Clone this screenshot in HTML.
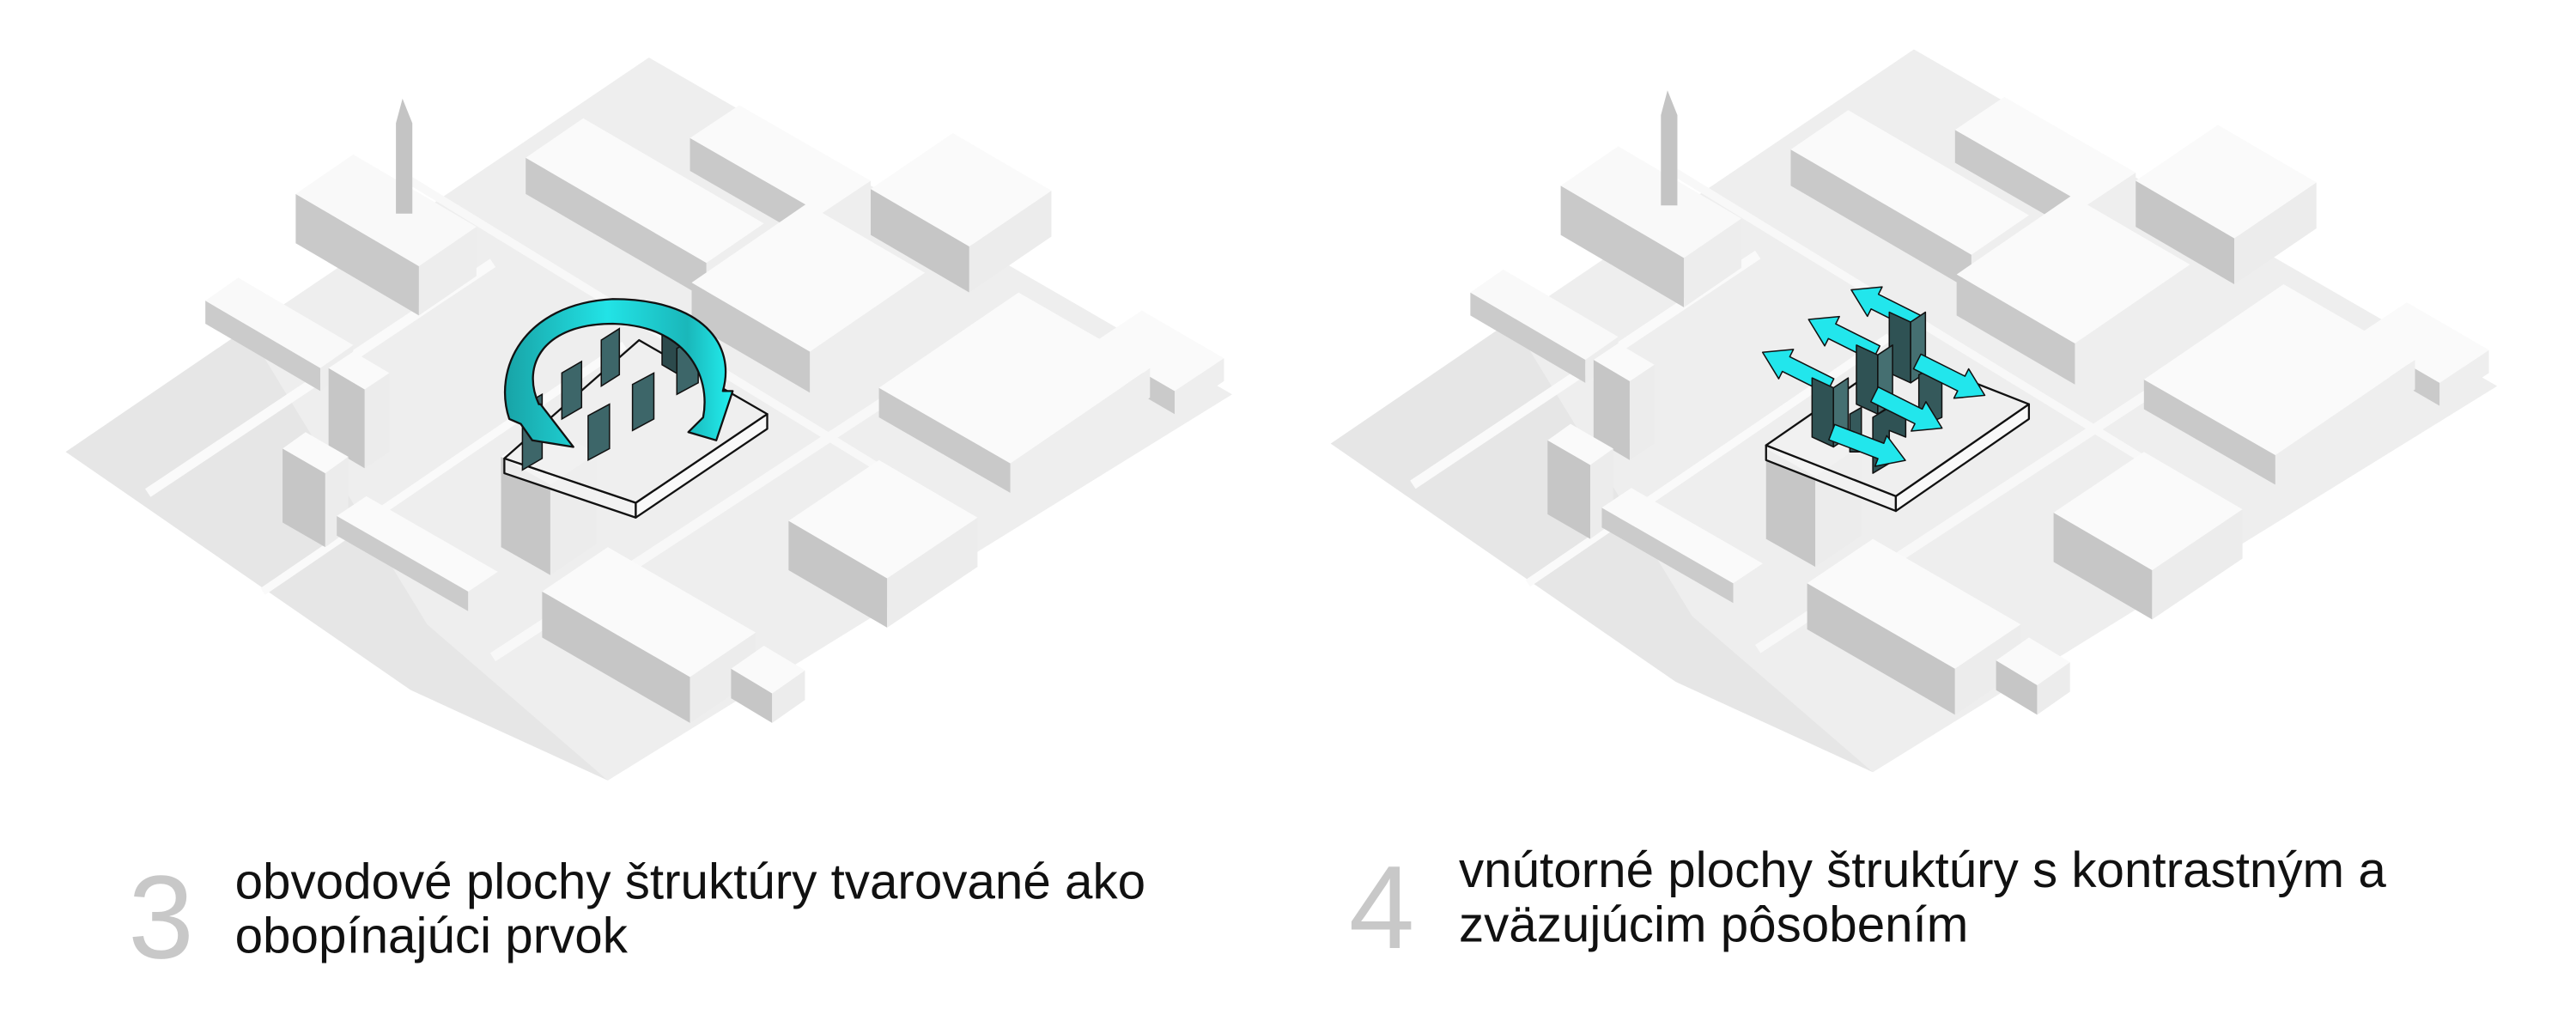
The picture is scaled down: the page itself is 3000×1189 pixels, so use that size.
<!DOCTYPE html>
<html><head><meta charset="utf-8"><style>
html,body{margin:0;padding:0;background:#fff;}
svg{display:block;}
</style></head><body>
<svg width="3000" height="1189" viewBox="0 0 1568 621.4" xmlns="http://www.w3.org/2000/svg">
<defs>
<linearGradient id="rib" x1="0" y1="0" x2="1" y2="0">
<stop offset="0" stop-color="#18a3a6"/><stop offset="0.45" stop-color="#22e3e6"/><stop offset="0.8" stop-color="#1ab7ba"/><stop offset="1" stop-color="#22f0f0"/>
</linearGradient>
<g id="city">
<polygon points="40,275 395,35 750,240 370,475" fill="#eeeeee"/>
<polygon points="40,275 150,200 260,380 370,475 250,420" fill="#e6e6e6"/>
<polyline points="90,300 300,160" stroke="#fafafa" stroke-width="6" fill="none"/>
<polyline points="160,360 380,210" stroke="#fafafa" stroke-width="5" fill="none"/>
<polyline points="300,400 560,230" stroke="#f8f8f8" stroke-width="6" fill="none"/>
<polyline points="250,110 560,300" stroke="#f8f8f8" stroke-width="5" fill="none"/>
<g stroke="none">
<polygon points="255,192 180,148 180,118 255,162" fill="#c9c9c9"/><polygon points="255,192 290,168 290,138 255,162" fill="#ededed"/><polygon points="255,162 180,118 215,94 290,138" fill="#f9f9f9"/>
<polygon points="241,130 241,75 245,60 251,75 251,130" fill="#c4c4c4"/>
<polygon points="195,238 125,197 125,183 195,224" fill="#cbcbcb"/><polygon points="195,238 215,224 215,210 195,224" fill="#ededed"/><polygon points="195,224 125,183 145,169 215,210" fill="#f9f9f9"/>
<polygon points="500,150 420,104 420,84 500,130" fill="#c9c9c9"/><polygon points="500,150 530,130 530,110 500,130" fill="#eeeeee"/><polygon points="500,130 420,84 450,64 530,110" fill="#fafafa"/>
<polygon points="430,182 320,118 320,96 430,160" fill="#c9c9c9"/><polygon points="430,182 465,158 465,136 430,160" fill="#eeeeee"/><polygon points="430,160 320,96 355,72 465,136" fill="#fafafa"/>
<polygon points="590,178 530,143 530,115 590,150" fill="#c6c6c6"/><polygon points="590,178 640,144 640,116 590,150" fill="#ececec"/><polygon points="590,150 530,115 580,81 640,116" fill="#fafafa"/>
<polygon points="493,239 421,197 421,172 493,214" fill="#c9c9c9"/><polygon points="493,239 563,191 563,166 493,214" fill="#eeeeee"/><polygon points="493,214 421,172 491,124 563,166" fill="#fafafa"/>
<polygon points="715,252 665,223 665,209 715,238" fill="#cacaca"/><polygon points="715,252 745,232 745,218 715,238" fill="#eeeeee"/><polygon points="715,238 665,209 695,189 745,218" fill="#fafafa"/>
<polygon points="615,300 535,254 535,236 615,282" fill="#c9c9c9"/><polygon points="615,300 700,242 700,224 615,282" fill="#eeeeee"/><polygon points="615,282 535,236 620,178 700,224" fill="#fafafa"/>
<polygon points="222,285 200,272 200,224 222,237" fill="#c6c6c6"/><polygon points="222,285 237,275 237,227 222,237" fill="#ececec"/><polygon points="222,237 200,224 215,214 237,227" fill="#fafafa"/>
<polygon points="198,333 172,318 172,273 198,288" fill="#c6c6c6"/><polygon points="198,333 212,323 212,278 198,288" fill="#ececec"/><polygon points="198,288 172,273 186,263 212,278" fill="#fafafa"/>
<polygon points="285,372 205,326 205,314 285,360" fill="#cbcbcb"/><polygon points="285,372 303,360 303,348 285,360" fill="#eeeeee"/><polygon points="285,360 205,314 223,302 303,348" fill="#fafafa"/>
<polygon points="335,350 305,333 305,278 335,295" fill="#c6c6c6"/><polygon points="335,350 363,331 363,276 335,295" fill="#ececec"/><polygon points="335,295 305,278 333,259 363,276" fill="#fafafa"/>
<polygon points="540,382 480,347 480,317 540,352" fill="#c6c6c6"/><polygon points="540,382 595,345 595,315 540,352" fill="#ececec"/><polygon points="540,352 480,317 535,280 595,315" fill="#fafafa"/>
<polygon points="420,440 330,388 330,360 420,412" fill="#c6c6c6"/><polygon points="420,440 460,413 460,385 420,412" fill="#ececec"/><polygon points="420,412 330,360 370,333 460,385" fill="#fafafa"/>
<polygon points="470,440 445,425 445,407 470,422" fill="#c6c6c6"/><polygon points="470,440 490,426 490,408 470,422" fill="#ececec"/><polygon points="470,422 445,407 465,393 490,408" fill="#fafafa"/>
</g>
</g>
</defs>

<use href="#city"/>
<use href="#city" transform="translate(770,-5)"/>

<g stroke="#111" stroke-width="1.2" stroke-linejoin="round">
<polygon points="307,279 387,306 387,315 307,288" fill="#f2f2f2" fill-opacity="0.85"/>
<polygon points="387,306 467,252 467,261 387,315" fill="#fafafa" fill-opacity="0.9"/>
<polygon points="307,279 389,207 467,252 387,306" fill="#efefef" fill-opacity="0.85"/>
</g>
<g fill="#3d6669" stroke="#111" stroke-width="0.8">
<polygon points="342,255 342,227 354,220 354,248"/>
<polygon points="366,235 366,207 377,200 377,228"/>
<polygon points="358,280 358,253 371,246 371,273"/>
<polygon points="385,262 385,234 398,227 398,255"/>
<polygon points="318,286 318,247 330,240 330,279"/>
<polygon points="403,206 403,196 420,206 420,232 403,222" fill="#2c4a4c"/>
<polygon points="412,240 412,212 425,205 425,233"/>
</g>
<path d="M 310,255 C 300,225 318,185 373,182 C 428,182 448,210 440,238 L 446,238 L 436,268 L 419,263 L 428,254 C 433,228 417,198 373,197 C 331,197 317,222 328,246 L 329,246 L 349,272 L 324,268 L 317,258 Z" fill="url(#rib)" stroke="#111" stroke-width="1.2" stroke-linejoin="round"/>

<g stroke="#111" stroke-width="1.2" stroke-linejoin="round">
<polygon points="1075,271 1154,302 1154,311 1075,280" fill="#f2f2f2" fill-opacity="0.85"/>
<polygon points="1154,302 1235,246 1235,255 1154,311" fill="#fafafa" fill-opacity="0.9"/>
<polygon points="1075,271 1156,215 1235,246 1154,302" fill="#efefef" fill-opacity="0.85"/>
</g>
<g stroke="#111" stroke-width="0.8" stroke-linejoin="round">
<polygon transform="translate(1168,197) rotate(206.6)" points="0,-5 30,-5 30,-10 46,0 30,10 30,5 0,5" fill="#22e6ec"/>
<g fill="#2f5254">
<polygon points="1150,227 1150,190 1163,196 1163,233"/><polygon points="1163,233 1163,196 1172,190 1172,227" fill="#456f71"/>
</g>
<polygon transform="translate(1142,215) rotate(206.6)" points="0,-5 30,-5 30,-10 46,0 30,10 30,5 0,5" fill="#22e6ec"/>
<g fill="#2f5254">
<polygon points="1130,246 1130,210 1143,216 1143,252"/><polygon points="1143,252 1143,216 1152,210 1152,246" fill="#456f71"/>
<polygon points="1168,260 1168,228 1182,222 1182,254" fill="#35595b"/>
</g>
<polygon transform="translate(1114,235) rotate(206.6)" points="0,-5 30,-5 30,-10 46,0 30,10 30,5 0,5" fill="#22e6ec"/>
<g fill="#2f5254">
<polygon points="1103,266 1103,230 1116,236 1116,272"/><polygon points="1116,272 1116,236 1125,230 1125,266" fill="#456f71"/>
<polygon points="1140,288 1140,254 1150,248 1160,254 1160,266 1150,262 1150,282"/>
</g>
<polygon transform="translate(1167,220) rotate(26.6)" points="0,-5 30,-5 30,-10 46,0 30,10 30,5 0,5" fill="#22e6ec"/>
<polygon transform="translate(1141,240) rotate(26.6)" points="0,-5 30,-5 30,-10 46,0 30,10 30,5 0,5" fill="#22e6ec"/>
<polygon points="1126,275 1126,252 1133,248 1133,275" fill="#35595b"/>
<polygon transform="translate(1115,263) rotate(21)" points="0,-5 32,-5 32,-10 48,0 32,10 32,5 0,5" fill="#22e6ec"/>
</g>

<g font-family="'Liberation Sans', 'DejaVu Sans', sans-serif">
<text x="78" y="583" font-size="72" fill="#c8c8c8">3</text>
<text x="143" y="547" font-size="30.5" fill="#111">obvodové plochy štruktúry tvarované ako</text>
<text x="143" y="580" font-size="30.5" fill="#111">obopínajúci prvok</text>
<text x="821" y="577" font-size="72" fill="#c8c8c8">4</text>
<text x="888" y="540" font-size="30.5" fill="#111">vnútorné plochy štruktúry s kontrastným a</text>
<text x="888" y="573" font-size="30.5" fill="#111">zväzujúcim pôsobením</text>
</g>
</svg>
</body></html>
